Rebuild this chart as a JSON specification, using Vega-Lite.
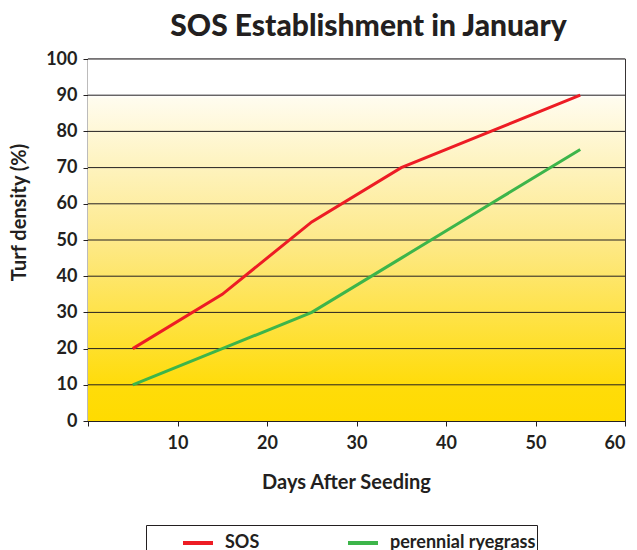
{
  "$schema": "https://vega.github.io/schema/vega-lite/v6.json",
  "width": 537,
  "height": 362,
  "autosize": "none",
  "padding": {"left": 88, "top": 59, "right": 12, "bottom": 129},
  "background": "white",
  "title": {
    "text": "SOS Establishment in January",
    "font": "Lato",
    "fontSize": 30,
    "fontWeight": 900,
    "color": "#231f20",
    "anchor": "middle",
    "offset": 8,
    "dx": 12
  },
  "config": {
    "view": {"stroke": "#231f20", "strokeWidth": 1.2},
    "font": "Lato",
    "axis": {
      "labelFont": "Lato",
      "titleFont": "Lato",
      "labelColor": "#231f20",
      "titleColor": "#231f20",
      "labelFontWeight": "bold",
      "titleFontWeight": "bold",
      "labelFontSize": 18,
      "titleFontSize": 20,
      "domainColor": "#231f20",
      "tickColor": "#231f20",
      "tickSize": 5,
      "labelOverlap": false,
      "grid": false
    },
    "axisX": {
      "labelExpr": "(datum.value == 0 || datum.value % 10 != 0) ? '' : datum.label",
      "tickOpacity": {"condition": {"test": "datum.value % 10 != 0", "value": 0}, "value": 1},
      "labelPadding": 8,
      "titlePadding": 20,
      "titleX": 258
    },
    "axisY": {
      "labelPadding": 6,
      "titlePadding": 16,
      "titleY": 153
    }
  },
  "datasets": {
    "grid": [
      {"level": 10}, {"level": 20}, {"level": 30}, {"level": 40}, {"level": 50},
      {"level": 60}, {"level": 70}, {"level": 80}, {"level": 90}, {"level": 100}
    ],
    "lines": [
      {"series": "SOS", "day": 5, "density": 20},
      {"series": "SOS", "day": 15, "density": 35},
      {"series": "SOS", "day": 25, "density": 55},
      {"series": "SOS", "day": 35, "density": 70},
      {"series": "SOS", "day": 45, "density": 80},
      {"series": "SOS", "day": 55, "density": 90},
      {"series": "perennial ryegrass", "day": 5, "density": 10},
      {"series": "perennial ryegrass", "day": 15, "density": 20},
      {"series": "perennial ryegrass", "day": 25, "density": 30},
      {"series": "perennial ryegrass", "day": 35, "density": 45},
      {"series": "perennial ryegrass", "day": 45, "density": 60},
      {"series": "perennial ryegrass", "day": 55, "density": 75}
    ]
  },
  "layer": [
    {
      "data": {"name": "lines"},
      "mark": {
        "type": "rect",
        "fill": {
          "gradient": "linear",
          "x1": 0, "y1": 0, "x2": 0, "y2": 1,
          "stops": [
            {"offset": 0, "color": "#ffffff"},
            {"offset": 0.1, "color": "#ffffff"},
            {"offset": 0.11, "color": "#fffcee"},
            {"offset": 0.5, "color": "#fde98a"},
            {"offset": 0.9, "color": "#ffdc0a"},
            {"offset": 1, "color": "#ffdb00"}
          ]
        }
      },
      "encoding": {
        "x": {
          "datum": 0,
          "type": "quantitative",
          "title": "Days After Seeding",
          "scale": {"domain": [0, 60], "nice": false}
        },
        "x2": {"datum": 60},
        "y": {
          "datum": 100,
          "type": "quantitative",
          "title": "Turf density (%)",
          "scale": {"domain": [0, 100], "nice": false}
        },
        "y2": {"datum": 0}
      }
    },
    {
      "data": {"name": "grid"},
      "mark": {"type": "rule", "color": "#231f20", "strokeWidth": 1},
      "encoding": {
        "y": {"field": "level", "type": "quantitative", "title": "Turf density (%)"}
      }
    },
    {
      "data": {"name": "lines"},
      "mark": {"type": "line", "strokeWidth": 3},
      "encoding": {
        "x": {"field": "day", "type": "quantitative", "title": "Days After Seeding"},
        "y": {"field": "density", "type": "quantitative", "title": "Turf density (%)"},
        "color": {
          "field": "series",
          "type": "nominal",
          "scale": {
            "domain": ["SOS", "perennial ryegrass"],
            "range": ["#ed1c24", "#3db54a"]
          },
          "legend": {
            "title": null,
            "orient": "none",
            "direction": "horizontal",
            "legendX": 58,
            "legendY": 466,
            "padding": 1,
            "symbolOffset": 34,
            "strokeColor": "#231f20",
            "fillColor": "white",
            "symbolType": "stroke",
            "symbolSize": 900,
            "symbolStrokeWidth": 4,
            "labelFontSize": 18,
            "labelFontWeight": "bold",
            "labelFont": "Lato",
            "labelColor": "#231f20",
            "labelOffset": 10,
            "columnPadding": 52
          }
        }
      }
    }
  ]
}
